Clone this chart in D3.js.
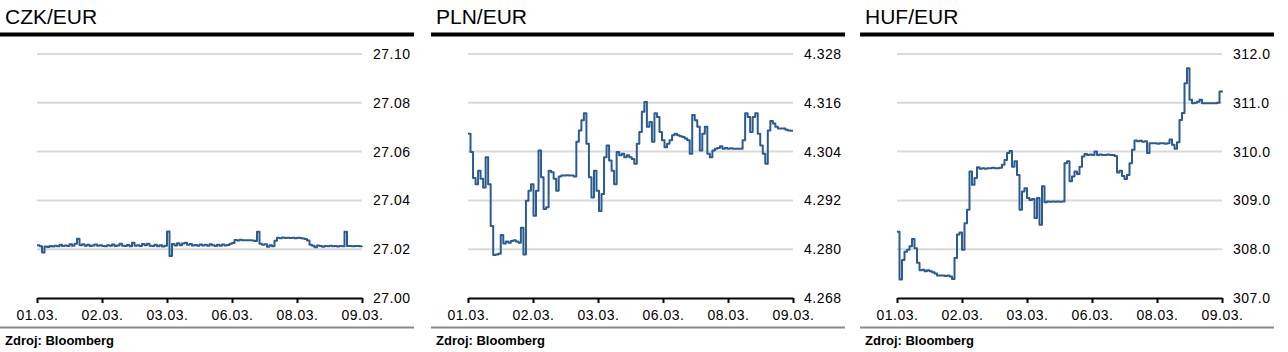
<!DOCTYPE html>
<html>
<head>
<meta charset="utf-8">
<script src="https://cdn.jsdelivr.net/npm/d3@7"></script>
<style>
  html, body { margin: 0; padding: 0; background: #ffffff; }
  svg { display: block; }
  text { font-family: "Liberation Sans", Arial, sans-serif; }
</style>
</head>
<body>
<svg id="chart" width="1288" height="352"></svg>
<script>
// ---------- DATA ----------
const titles = ["CZK/EUR", "PLN/EUR", "HUF/EUR"];
const dateLabels = ["01.03.", "02.03.", "03.03.", "06.03.", "08.03.", "09.03."];
const sourceLabel = "Zdroj: Bloomberg";

const czkTicks = ["27.00", "27.02", "27.04", "27.06", "27.08", "27.10"];
const plnTicks = ["4.268", "4.280", "4.292", "4.304", "4.316", "4.328"];
const hufTicks = ["307.0", "308.0", "309.0", "310.0", "311.0", "312.0"];

const czkValues = [
  27.0216, 27.0212, 27.0186, 27.0211, 27.0209, 27.0213, 27.0211, 27.0214, 27.0212, 27.0218,
  27.0213, 27.0215, 27.0213, 27.0220, 27.0214, 27.0222, 27.0243, 27.0216, 27.0220, 27.0214,
  27.0218, 27.0213, 27.0215, 27.0219, 27.0214, 27.0216, 27.0213, 27.0212, 27.0216, 27.0214,
  27.0219, 27.0213, 27.0215, 27.0222, 27.0214, 27.0213, 27.0217, 27.0212, 27.0226, 27.0214,
  27.0216, 27.0213, 27.0221, 27.0216, 27.0222, 27.0214, 27.0213, 27.0218, 27.0212, 27.0216,
  27.0211, 27.0214, 27.0273, 27.0172, 27.0221, 27.0215, 27.0224, 27.0216, 27.0223, 27.0226,
  27.0218, 27.0221, 27.0215, 27.0217, 27.0214, 27.0219, 27.0215, 27.0218, 27.0214, 27.0220,
  27.0216, 27.0213, 27.0218, 27.0214, 27.0219, 27.0215, 27.0217, 27.0222, 27.0225, 27.0238,
  27.0236, 27.0239, 27.0237, 27.0237, 27.0237, 27.0237, 27.0236, 27.0234, 27.0272, 27.0222,
  27.0218, 27.0220, 27.0210, 27.0216, 27.0212, 27.0235, 27.0247, 27.0245, 27.0248, 27.0246,
  27.0247, 27.0246, 27.0247, 27.0245, 27.0247, 27.0246, 27.0244, 27.0242, 27.0236, 27.0218,
  27.0214, 27.0208, 27.0215, 27.0213, 27.0210, 27.0213, 27.0212, 27.0214, 27.0212, 27.0213,
  27.0211, 27.0213, 27.0212, 27.0272, 27.0213, 27.0213, 27.0212, 27.0213, 27.0213, 27.0212,
  27.0213
];

const plnValues = [
  4.3084, 4.3039, 4.2975, 4.2960, 4.2993, 4.2973, 4.2952, 4.3026, 4.2960, 4.2857,
  4.2786, 4.2787, 4.2789, 4.2835, 4.2814, 4.2819, 4.2816, 4.2820, 4.2822, 4.2819,
  4.2816, 4.2853, 4.2787, 4.2919, 4.2944, 4.2960, 4.2882, 4.2944, 4.3043, 4.2977,
  4.2899, 4.2903, 4.2993, 4.2989, 4.2973, 4.2944, 4.2979, 4.2981, 4.2981, 4.2982,
  4.2981, 4.2981, 4.2979, 4.3064, 4.3092, 4.3117, 4.3134, 4.3059, 4.2977, 4.2927,
  4.2993, 4.2944, 4.2894, 4.2936, 4.3026, 4.3055, 4.3018, 4.2993, 4.2960, 4.3039,
  4.3031, 4.3035, 4.3026, 4.3031, 4.3026, 4.3022, 4.3010, 4.3059, 4.3088, 4.3138,
  4.3162, 4.3101, 4.3113, 4.3064, 4.3134, 4.3125, 4.3088, 4.3068, 4.3051, 4.3059,
  4.3068, 4.3080, 4.3084, 4.3080, 4.3078, 4.3076, 4.3072, 4.3068, 4.3035, 4.3130,
  4.3117, 4.3101, 4.3043, 4.3084, 4.3101, 4.3035, 4.3026, 4.3043, 4.3047, 4.3049,
  4.3053, 4.3047, 4.3049, 4.3047, 4.3048, 4.3047, 4.3047, 4.3047, 4.3047, 4.3068,
  4.3134, 4.3125, 4.3088, 4.3125, 4.3134, 4.3084, 4.3055, 4.3035, 4.3010, 4.3092,
  4.3115, 4.3109, 4.3101, 4.3097, 4.3097, 4.3097, 4.3094, 4.3092, 4.3091, 4.3091
];

const hufValues = [
  308.36, 307.38, 307.78, 307.95, 307.99, 308.06, 308.21, 308.02, 307.72, 307.57,
  307.58, 307.55, 307.57, 307.55, 307.53, 307.50, 307.46, 307.46, 307.46, 307.45,
  307.46, 307.44, 307.39, 307.82, 308.30, 308.34, 307.99, 308.53, 308.81, 309.59,
  309.32, 309.46, 309.68, 309.65, 309.66, 309.65, 309.66, 309.66, 309.67, 309.66,
  309.66, 309.67, 309.73, 309.83, 309.97, 310.01, 309.69, 309.80, 309.52, 308.81,
  309.18, 309.25, 309.05, 309.01, 309.03, 308.64, 309.05, 308.50, 309.29, 308.96,
  308.98, 308.97, 308.98, 308.97, 308.98, 308.97, 308.98, 309.76, 309.80, 309.39,
  309.49, 309.59, 309.54, 309.69, 309.90, 309.95, 309.93, 309.94, 309.93, 310.00,
  309.93, 309.94, 309.93, 309.93, 309.94, 309.93, 309.93, 309.91, 309.57, 309.61,
  309.50, 309.44, 309.52, 309.76, 310.04, 310.23, 310.21, 310.22, 310.20, 310.21,
  309.97, 310.17, 310.17, 310.17, 310.16, 310.17, 310.17, 310.16, 310.17, 310.25,
  310.14, 310.06, 310.19, 310.65, 310.79, 311.40, 311.71, 311.06, 310.99, 311.00,
  311.02, 311.06, 310.99, 310.99, 310.99, 310.99, 310.99, 310.99, 311.00, 311.23,
  311.21
];

// ---------- LAYOUT ----------
const svg = d3.select("#chart");
const panelOffsets = [0, 431, 860];
const panelWidth = 414;
const plotLeftPad = 37, plotW = 325;
const yTop = 54, yBottom = 298;
const lineColor = "#2c5b91";

const panels = [
  { title: titles[0], values: czkValues, ticks: czkTicks },
  { title: titles[1], values: plnValues, ticks: plnTicks },
  { title: titles[2], values: hufValues, ticks: hufTicks }
];

panels.forEach((p, k) => {
  const off = panelOffsets[k];
  const g = svg.append("g").attr("transform", `translate(${off},0)`);
  const left = plotLeftPad, right = plotLeftPad + plotW;

  // title
  g.append("text").attr("x", 5).attr("y", 24)
    .attr("font-size", 21).attr("fill", "#000").text(p.title);
  // top thick rule
  g.append("rect").attr("x", 0).attr("y", 32.5).attr("width", panelWidth).attr("height", 4).attr("fill", "#000");
  // bottom gray rule
  g.append("rect").attr("x", 0).attr("y", 326.5).attr("width", panelWidth).attr("height", 2).attr("fill", "#8a8a8a");
  // source
  g.append("text").attr("x", 5).attr("y", 345)
    .attr("font-size", 13).attr("font-weight", "bold").attr("fill", "#000").text(sourceLabel);

  const tickNums = p.ticks.map(Number);
  const y = d3.scaleLinear().domain([tickNums[0], tickNums[tickNums.length - 1]]).range([yBottom, yTop]);
  const x = d3.scaleLinear().domain([0, p.values.length - 1]).range([left, right]);
  const xd = d3.scalePoint().domain(dateLabels).range([left, right]).padding(0);

  // gridlines
  g.append("g").selectAll("line").data(tickNums.slice(1)).join("line")
    .attr("x1", left).attr("x2", right)
    .attr("y1", d => y(d)).attr("y2", d => y(d))
    .attr("stroke", "#d9d9d9").attr("stroke-width", 2);

  // y axis labels (right)
  const yAxis = d3.axisRight(y).tickValues(tickNums).tickSize(0).tickPadding(0)
    .tickFormat((d, i) => p.ticks[i]);
  const ya = g.append("g").attr("transform", `translate(${right + 11},0)`).call(yAxis);
  ya.select(".domain").remove();
  ya.selectAll("text").attr("font-size", 14).attr("fill", "#000")
    .attr("letter-spacing", "0.5px").attr("font-family", "Liberation Sans, Arial, sans-serif");

  // line
  const line = d3.line().x((d, i) => x(i)).y(d => y(d)).curve(d3.curveStepAfter);
  g.append("path").datum(p.values)
    .attr("d", line).attr("fill", "none")
    .attr("stroke", lineColor).attr("stroke-width", 2)
    .attr("stroke-linejoin", "round");

  // x axis
  const xAxis = d3.axisBottom(xd).tickSize(5).tickSizeOuter(0).tickPadding(7);
  const xa = g.append("g").attr("transform", `translate(0,${yBottom})`).call(xAxis);
  xa.select(".domain").attr("stroke", "#000").attr("stroke-width", 2);
  xa.selectAll(".tick line").attr("stroke", "#000").attr("stroke-width", 2);
  xa.selectAll("text").attr("font-size", 14).attr("fill", "#000")
    .attr("letter-spacing", "0.5px").attr("font-family", "Liberation Sans, Arial, sans-serif");
});
</script>
</body>
</html>
